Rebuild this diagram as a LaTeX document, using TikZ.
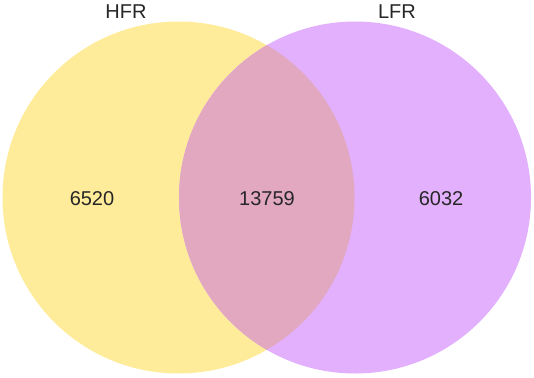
\documentclass[tikz,border=0pt]{standalone}
\usepackage{fontspec}
\setmainfont{Liberation Sans}
\definecolor{hfrcol}{RGB}{254,236,154}
\definecolor{lfrcol}{RGB}{226,176,252}
\definecolor{bothcol}{RGB}{225,168,192}
\begin{document}
\begin{tikzpicture}[x=1pt,y=-1pt,
  lbl/.style={font=\fontsize{20}{24}\selectfont, text=black!85, inner sep=0pt}]
\useasboundingbox (0,0) rectangle (534,377);
\fill[hfrcol] (178.5,197.5) circle[radius=176];
\fill[lfrcol] (355,197.5) circle[radius=176];
\begin{scope}
  \clip (178.5,197.5) circle[radius=176];
  \fill[bothcol] (355,197.5) circle[radius=176];
\end{scope}
\node[lbl] (hfr) at (126,12) {HFR};
\node[lbl] (lfr) at (397,12) {LFR};
\node[lbl] (a) at (92,199) {6520};
\node[lbl] (ab) at (267,199) {13759};
\node[lbl] (b) at (441,199) {6032};
\end{tikzpicture}
\end{document}
